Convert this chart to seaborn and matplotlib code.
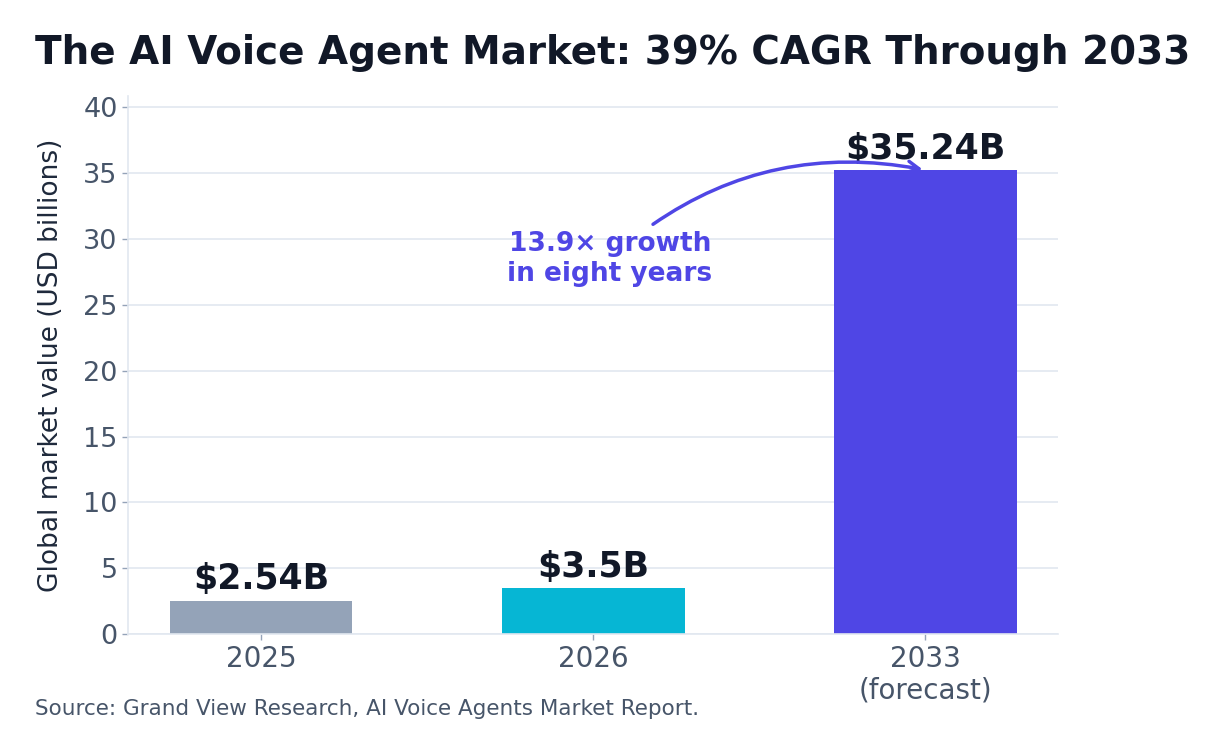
import matplotlib
matplotlib.use("Agg")
import matplotlib.pyplot as plt
import seaborn as sns
import pandas as pd

years = ["2025", "2026", "2033\n(forecast)"]
values = [2.54, 3.5, 35.24]
bar_colors = ["#94a3b8", "#06b6d4", "#4f46e5"]
yticks = [0, 5, 10, 15, 20, 25, 30, 35, 40]
title = "The AI Voice Agent Market: 39% CAGR Through 2033"
ylabel = "Global market value (USD billions)"
source = "Source: Grand View Research, AI Voice Agents Market Report."
annotation = "13.9× growth\nin eight years"

sns.set_theme(style="white")
plt.rcParams["font.family"] = ["DejaVu Sans"]

df = pd.DataFrame({"year": years, "value": values})

fig = plt.figure(figsize=(12.25, 7.54), dpi=100)
ax = fig.add_axes([0.1045, 0.159, 0.7595, 0.714])

sns.barplot(data=df, x="year", y="value", hue="year", palette=bar_colors,
            width=0.55, legend=False, ax=ax, saturation=1, linewidth=0)

ax.set_xlim(-0.4, 2.4)
ax.set_ylim(0, max(values) * 1.16)
ax.set_yticks(yticks)
ax.yaxis.grid(True, color="#e2e8f0", linewidth=1.2)
ax.set_axisbelow(True)
for s in ["top", "right"]:
    ax.spines[s].set_visible(False)
for s in ["left", "bottom"]:
    ax.spines[s].set_color("#e2e8f0")
    ax.spines[s].set_linewidth(1.2)

ax.tick_params(axis="y", labelsize=19.5, colors="#475569", length=4, width=1, left=True)
ax.tick_params(axis="x", labelsize=20, colors="#475569", length=4, width=1, bottom=True)
ax.tick_params(axis="both", color="#94a3b8")
ax.set_xlabel("")
ax.set_ylabel(ylabel, fontsize=19, color="#1e293b", labelpad=14)

for cont, v in zip(ax.containers, values):
    ax.bar_label(cont, labels=[f"\\${v:g}B"], padding=3, fontsize=25,
                 fontweight="bold", color="#111827")

ax.annotate(annotation, xy=(2, values[2]), xytext=(1.05, 28.5),
            textcoords="data", ha="center", va="center",
            fontsize=19, fontweight="bold", color="#4f46e5",
            arrowprops=dict(arrowstyle="->", color="#4f46e5", lw=2.5,
                            connectionstyle="arc3,rad=-0.25",
                            shrinkA=4, shrinkB=2, mutation_scale=20))

fig.text(0.0286, 0.93, title, fontsize=28, fontweight="bold", color="#111827",
         ha="left", va="center")
fig.text(0.0286, 0.06, source, fontsize=15.5, color="#475569", ha="left", va="center")

fig.savefig("out.png", dpi=100)
